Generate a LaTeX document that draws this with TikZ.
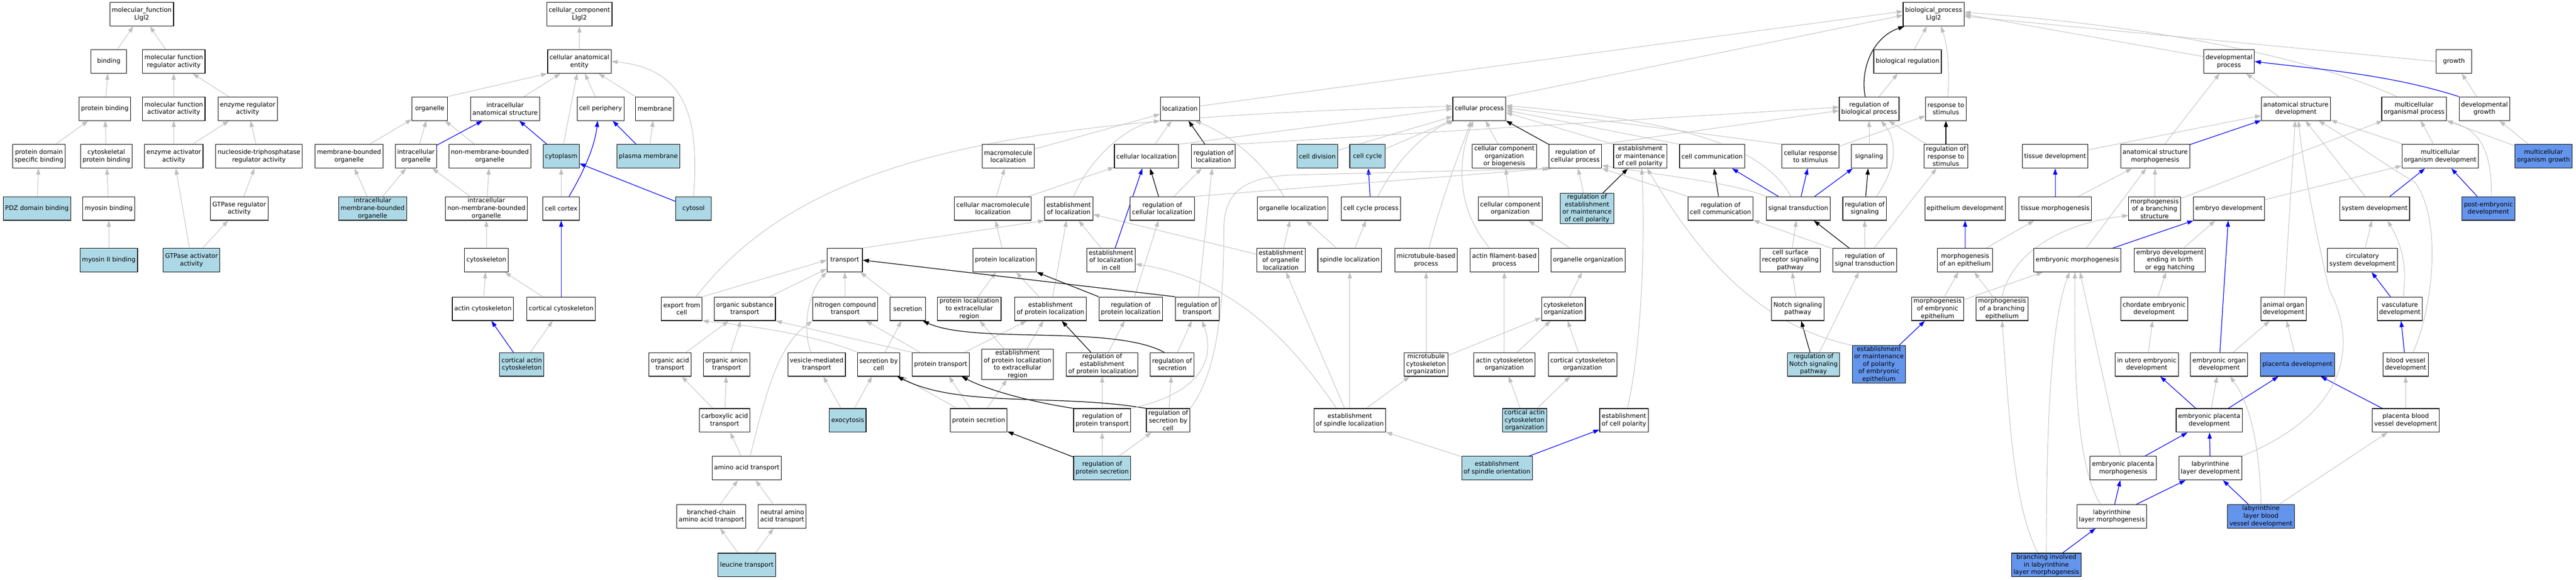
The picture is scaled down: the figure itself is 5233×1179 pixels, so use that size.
\documentclass[tikz,border=0pt]{standalone}
\usepackage{fontspec}
\setmainfont{DejaVu Sans}
\usetikzlibrary{arrows.meta}
\definecolor{edgegray}{RGB}{190,190,190}
\definecolor{lbfill}{RGB}{173,216,230}
\definecolor{cffill}{RGB}{100,149,237}
\newcommand\gofont{\fontsize{12.7}{15.3}\selectfont}
\pgfdeclarelayer{bg}
\pgfsetlayers{bg,main}
\begin{document}
\begin{tikzpicture}[x=1pt,y=-1pt,
 gonode/.style={draw=black,line width=1.2pt,fill=white,inner xsep=4pt,inner ysep=1.5pt,minimum width=72pt,minimum height=48pt,align=center,font=\gofont},
 lbnode/.style={gonode,fill=lbfill},
 cfnode/.style={gonode,fill=cffill},
 ge/.style={draw=edgegray,line width=1pt,-{Triangle[length=12.5pt,width=8.5pt]}},
 be/.style={draw=blue,line width=1.3pt,-{Triangle[length=12.5pt,width=8.5pt]}},
 ke/.style={draw=black,line width=1.3pt,-{Triangle[length=12.5pt,width=8.5pt]}}]
\useasboundingbox (0,0) rectangle (5233,1179);
% ---------------- molecular function
\node[gonode] (mf) at (288,29) {molecular\_function\\Llgl2};
\node[gonode] (binding) at (221,125) {binding};
\node[gonode] (mfra) at (353,125) {molecular function\\regulator activity};
\node[gonode] (pbind) at (213,221) {protein binding};
\node[gonode] (mfaa) at (353,221) {molecular function\\activator activity};
\node[gonode] (enzreg) at (503,221) {enzyme regulator\\activity};
\node[gonode] (pdsb) at (79,318) {protein domain\\specific binding};
\node[gonode] (cpb) at (216,318) {cytoskeletal\\protein binding};
\node[gonode] (enzact) at (353,318) {enzyme activator\\activity};
\node[gonode] (ntpreg) at (526,318) {nucleoside-triphosphatase\\regulator activity};
\node[lbnode] (pdz) at (75,424) {PDZ domain binding};
\node[gonode] (myob) at (221,424) {myosin binding};
\node[gonode] (gtpreg) at (486,424) {GTPase regulator\\activity};
\node[lbnode] (myo2) at (221,529) {myosin II binding};
\node[lbnode] (gtpact) at (389,529) {GTPase activator\\activity};
% ---------------- cellular component
\node[gonode] (cc) at (1177,29) {cellular\_component\\Llgl2};
\node[gonode] (cae) at (1177,125) {cellular anatomical\\entity};
\node[gonode] (organelle) at (873,221) {organelle};
\node[gonode] (ias) at (1026,221) {intracellular\\anatomical structure};
\node[gonode] (cper) at (1220,221) {cell periphery};
\node[gonode] (membrane) at (1330,221) {membrane};
\node[gonode] (mbo) at (709,318) {membrane-bounded\\organelle};
\node[gonode] (io) at (845,318) {intracellular\\organelle};
\node[gonode] (nmbo) at (995,318) {non-membrane-bounded\\organelle};
\node[lbnode] (cytoplasm) at (1140,318) {cytoplasm};
\node[lbnode] (pm) at (1317,318) {plasma membrane};
\node[lbnode] (imbo) at (757,424) {intracellular\\membrane-bounded\\organelle};
\node[gonode] (inmbo) at (988,424) {intracellular\\non-membrane-bounded\\organelle};
\node[gonode] (cortex) at (1140,424) {cell cortex};
\node[lbnode] (cytosol) at (1409,424) {cytosol};
\node[gonode] (cytosk) at (988,529) {cytoskeleton};
\node[gonode] (actcyt) at (981,628) {actin cytoskeleton};
\node[gonode] (corcyt) at (1140,628) {cortical cytoskeleton};
\node[lbnode] (cacyt) at (1060,741) {cortical actin\\cytoskeleton};
% ---------------- transport
\node[gonode] (transport) at (1716,529) {transport};
\node[gonode] (export) at (1385,628) {export from\\cell};
\node[gonode] (ost) at (1513,628) {organic substance\\transport};
\node[gonode] (nct) at (1717,628) {nitrogen compound\\transport};
\node[gonode] (secretion) at (1844,628) {secretion};
\node[gonode] (pler) at (1969,628) {protein localization\\to extracellular\\region};
\node[gonode] (epl) at (2134,628) {establishment\\of protein localization};
\node[gonode] (regpl) at (2297,628) {regulation of\\protein localization};
\node[gonode] (regtr) at (2432,628) {regulation of\\transport};
\node[gonode] (oat) at (1361,741) {organic acid\\transport};
\node[gonode] (oant) at (1476,741) {organic anion\\transport};
\node[gonode] (vmt) at (1659,741) {vesicle-mediated\\transport};
\node[gonode] (sbc) at (1785,741) {secretion by\\cell};
\node[gonode] (ptrans) at (1911,741) {protein transport};
\node[gonode] (epler) at (2067,741) {establishment\\of protein localization\\to extracellular\\region};
\node[gonode] (regepl) at (2239,741) {regulation of\\establishment\\of protein localization};
\node[gonode] (regsec) at (2381,741) {regulation of\\secretion};
\node[gonode] (cat) at (1472,855) {carboxylic acid\\transport};
\node[lbnode] (exo) at (1722,855) {exocytosis};
\node[gonode] (psec) at (1988,855) {protein secretion};
\node[gonode] (regpt) at (2239,855) {regulation of\\protein transport};
\node[gonode] (regsbc) at (2373,855) {regulation of\\secretion by\\cell};
\node[gonode] (aat) at (1517,952) {amino acid transport};
\node[lbnode] (regps) at (2239,952) {regulation of\\protein secretion};
\node[gonode] (bcaat) at (1445,1050) {branched-chain\\amino acid transport};
\node[gonode] (naat) at (1589,1050) {neutral amino\\acid transport};
\node[lbnode] (leucine) at (1517,1149) {leucine transport};
% ---------------- localization
\node[gonode] (loc) at (2397,221) {localization};
\node[gonode] (macloc) at (2048,318) {macromolecule\\localization};
\node[gonode] (cellloc) at (2329,318) {cellular localization};
\node[gonode] (regloc) at (2465,318) {regulation of\\localization};
\node[gonode] (cmloc) at (2017,424) {cellular macromolecule\\localization};
\node[gonode] (estloc) at (2171,424) {establishment\\of localization};
\node[gonode] (regcloc) at (2361,424) {regulation of\\cellular localization};
\node[gonode] (orgloc) at (2626,424) {organelle localization};
\node[gonode] (protloc) at (2041,529) {protein localization};
\node[gonode] (estlocc) at (2257,529) {establishment\\of localization\\in cell};
\node[gonode] (estorgloc) at (2602,529) {establishment\\of organelle\\localization};
% ---------------- cellular process
\node[gonode] (cellproc) at (3005,221) {cellular process};
\node[lbnode] (celldiv) at (2676,318) {cell division};
\node[lbnode] (cellcycle) at (2778,318) {cell cycle};
\node[gonode] (ccob) at (3056,318) {cellular component\\organization\\or biogenesis};
\node[gonode] (regcp) at (3200,318) {regulation of\\cellular process};
\node[gonode] (emcp) at (3332,318) {establishment\\or maintenance\\of cell polarity};
\node[gonode] (cellcomm) at (3478,318) {cell communication};
\node[gonode] (ccp) at (2785,424) {cell cycle process};
\node[gonode] (cco) at (3068,424) {cellular component\\organization};
\node[lbnode] (regemcp) at (3224,424) {regulation of\\establishment\\or maintenance\\of cell polarity};
\node[gonode] (regcc) at (3495,424) {regulation of\\cell communication};
\node[gonode] (spindloc) at (2742,529) {spindle localization};
\node[gonode] (mtbp) at (2897,529) {microtubule-based\\process};
\node[gonode] (afbp) at (3056,529) {actin filament-based\\process};
\node[gonode] (orgorg) at (3226,529) {organelle organization};
\node[gonode] (cytorg) at (3176,628) {cytoskeleton\\organization};
\node[gonode] (mco) at (2897,741) {microtubule\\cytoskeleton\\organization};
\node[gonode] (aco) at (3056,741) {actin cytoskeleton\\organization};
\node[gonode] (ccorg) at (3215,741) {cortical cytoskeleton\\organization};
\node[gonode] (esl) at (2742,855) {establishment\\of spindle localization};
\node[lbnode] (caco) at (3097,855) {cortical actin\\cytoskeleton\\organization};
\node[gonode] (ecp) at (3299,855) {establishment\\of cell polarity};
\node[lbnode] (eso) at (3041,952) {establishment\\of spindle orientation};
% ---------------- biological process / signaling
\node[gonode] (bp) at (3928,29) {biological\_process\\Llgl2};
\node[gonode] (bioreg) at (3875,125) {biological regulation};
\node[gonode] (regbp) at (3797,221) {regulation of\\biological process};
\node[gonode] (resp) at (3953,221) {response to\\stimulus};
\node[gonode] (crs) at (3678,318) {cellular response\\to stimulus};
\node[gonode] (signaling) at (3797,318) {signaling};
\node[gonode] (regrs) at (3953,318) {regulation of\\response to\\stimulus};
\node[gonode] (sigtrans) at (3653,424) {signal transduction};
\node[gonode] (regsig) at (3788,424) {regulation of\\signaling};
\node[gonode] (csrsp) at (3637,529) {cell surface\\receptor signaling\\pathway};
\node[gonode] (regst) at (3788,529) {regulation of\\signal transduction};
\node[gonode] (notch) at (3652,628) {Notch signaling\\pathway};
\node[lbnode] (regnotch) at (3684,741) {regulation of\\Notch signaling\\pathway};
\node[cfnode] (empee) at (3817,741) {establishment\\or maintenance\\of polarity\\of embryonic\\epithelium};
% ---------------- development
\node[gonode] (tissdev) at (4175,318) {tissue development};
\node[gonode] (asm) at (4378,318) {anatomical structure\\morphogenesis};
\node[gonode] (epidev) at (3992,424) {epithelium development};
\node[gonode] (tissmorph) at (4175,424) {tissue morphogenesis};
\node[gonode] (mbs) at (4377,424) {morphogenesis\\of a branching\\structure};
\node[gonode] (morphepi) at (3992,529) {morphogenesis\\of an epithelium};
\node[gonode] (embmorph) at (4220,529) {embryonic morphogenesis};
\node[gonode] (mee) at (3936,628) {morphogenesis\\of embryonic\\epithelium};
\node[gonode] (mbe) at (4067,628) {morphogenesis\\of a branching\\epithelium};
\node[gonode] (devproc) at (4528,125) {developmental\\process};
\node[gonode] (growth) at (4985,125) {growth};
\node[gonode] (asd) at (4664,221) {anatomical structure\\development};
\node[gonode] (mop) at (4904,221) {multicellular\\organismal process};
\node[gonode] (devgrowth) at (5047,221) {developmental\\growth};
\node[gonode] (mod) at (4957,318) {multicellular\\organism development};
\node[cfnode] (mog) at (5167,318) {multicellular\\organism growth};
\node[gonode] (embdev) at (4528,424) {embryo development};
\node[gonode] (sysdev) at (4824,424) {system development};
\node[cfnode] (ped) at (5055,424) {post-embryonic\\development};
\node[gonode] (edebeh) at (4408,529) {embryo development\\ending in birth\\or egg hatching};
\node[gonode] (circ) at (4799,529) {circulatory\\system development};
\node[gonode] (ced) at (4376,628) {chordate embryonic\\development};
\node[gonode] (aod) at (4639,628) {animal organ\\development};
\node[gonode] (vasc) at (4875,628) {vasculature\\development};
\node[gonode] (iued) at (4361,741) {in utero embryonic\\development};
\node[gonode] (eod) at (4508,741) {embryonic organ\\development};
\node[cfnode] (pd) at (4667,741) {placenta development};
\node[gonode] (bvd) at (4887,741) {blood vessel\\development};
\node[gonode] (epd) at (4488,855) {embryonic placenta\\development};
\node[gonode] (pbvd) at (4887,855) {placenta blood\\vessel development};
\node[gonode] (epm) at (4313,952) {embryonic placenta\\morphogenesis};
\node[gonode] (lld) at (4490,952) {labyrinthine\\layer development};
\node[gonode] (llm) at (4290,1050) {labyrinthine\\layer morphogenesis};
\node[cfnode] (llbvd) at (4593,1050) {labyrinthine\\layer blood\\vessel development};
\node[cfnode] (bill) at (4157,1149) {branching involved\\in labyrinthine\\layer morphogenesis};
% ================= edges
\begin{pgfonlayer}{bg}
\fill[white] (0,0) rectangle (5233,1179);
\foreach \a/\b in {binding/mf, mfra/mf, pbind/binding, mfaa/mfra, enzreg/mfra, pdsb/pbind, cpb/pbind, enzact/mfaa, enzact/enzreg, ntpreg/enzreg, pdz/pdsb, myob/cpb, gtpreg/ntpreg, myo2/myob, gtpact/enzact, gtpact/gtpreg,
 cae/cc, ias/cae, cytoplasm/cae, cper/cae, membrane/cae, mbo/organelle, io/organelle, nmbo/organelle, imbo/mbo, imbo/io, inmbo/io, inmbo/nmbo, cortex/cytoplasm, pm/membrane, cytosk/inmbo, actcyt/cytosk, corcyt/cytosk, cacyt/corcyt,
 bioreg/bp, regbp/bioreg, macloc/loc, cellloc/loc, celldiv/cellproc, cellcycle/cellproc, ccob/cellproc, crs/resp, signaling/regbp, regrs/regbp, tissdev/asd, asm/devproc, mod/asd, mod/mop, mog/mop, mog/devgrowth, devgrowth/growth, asd/devproc, cmloc/cellloc, cmloc/macloc, regcloc/regloc, cco/ccob, regemcp/regcp, tissmorph/asm, mbs/asm, mbs/mop, embdev/mod, sysdev/asd, protloc/cmloc, estlocc/estloc, estorgloc/orgloc, estorgloc/estloc, spindloc/orgloc, spindloc/ccp, orgorg/cco, csrsp/sigtrans, regst/regsig, regst/regrs, regst/regcc, morphepi/tissmorph, embmorph/asm, edebeh/embdev, circ/sysdev, ost/transport, nct/transport, secretion/transport, pler/protloc, epl/protloc, epl/estloc, regpl/regcloc, regtr/regloc, cytorg/orgorg, notch/csrsp, mee/morphepi, mee/embmorph, mbe/morphepi, ced/edebeh, oat/ost, oant/ost, sbc/secretion, ptrans/nct, ptrans/epl, epler/pler, epler/epl, regepl/regpl, regsec/regtr, mco/mtbp, mco/cytorg, aco/afbp, aco/cytorg, ccorg/cytorg, regnotch/regst, iued/ced, eod/aod, pd/aod, exo/vmt, exo/sbc, cat/oat, cat/oant, psec/sbc, psec/ptrans, psec/epler, regpt/regepl, regsbc/regsec, esl/spindloc, esl/estorgloc, esl/mco, caco/aco, caco/ccorg, epd/eod, pbvd/bvd, aat/cat, regps/regpt, regps/regsbc, eso/esl, epm/embmorph, bcaat/aat, naat/aat, llbvd/pbvd, leucine/bcaat, leucine/naat, aod/asd}
 \draw[ge] (\a) -- (\b);
\foreach \a/\b in {io/ias, cytoplasm/ias, pm/cper, cytosol/cytoplasm, corcyt/cortex, cacyt/actcyt, estlocc/cellloc, ccp/cellcycle, sigtrans/cellcomm, sigtrans/crs, sigtrans/signaling, tissmorph/tissdev, morphepi/epidev, embmorph/embdev, asm/asd, sysdev/mod, ped/mod, empee/mee, eod/embdev, bvd/vasc, vasc/circ, eso/ecp, epd/iued, epd/pd, pbvd/pd, epm/epd, lld/epd, llm/epm, llm/lld, llbvd/lld, bill/llm}
 \draw[be] (\a) -- (\b);
\foreach \a/\b in {regloc/loc, regrs/resp, regcloc/cellloc, regemcp/emcp, regcc/cellcomm, regsig/signaling, regst/sigtrans, regepl/epl, regnotch/notch, regps/psec}
 \draw[ke] (\a) -- (\b);
% anchored straight edges
\draw[ge] (organelle.north east) -- (cae.south west);
\draw[ge] (cellloc.north east) -- (cellproc.west);
\draw[ge] (regloc.north east) -- ([yshift=3pt]regbp.west);
\draw[ge] (regcp.north east) -- ([yshift=-4pt]regbp.west);
\draw[ge] (emcp.north west) -- ([yshift=-8pt]cellproc.east);
\draw[ge] (cellcomm.north west) -- ([yshift=-3pt]cellproc.east);
\draw[ge] (crs.north west) -- ([yshift=2pt]cellproc.east);
\draw[ke] (regcp.north west) -- (cellproc.south east);
\draw[ke] (regtr.north west) -- (transport.east);
\draw[ke] (regpl.north west) -- (protloc.south east);
\draw[ge] ([yshift=10pt]devproc.west) -- (bp.east);
\draw[ge] (growth.west) -- ([yshift=-4pt]bp.east);
\draw[ge] (loc) -- ([yshift=6pt]bp.west);
\draw[ge] (cellproc.north east) -- ([yshift=-2pt]bp.west);
\draw[ge] (regcloc.north east) -- (regcp.south west);
\draw[ge] (regcc.north west) -- (regcp.south east);
\draw[ge] (transport.north east) -- (estloc.south west);
\draw[ge] (export.north east) -- (transport.west);
\draw[ge] (ptrans.north west) -- (ost.south east);
% curved edges
\draw[ge] (cytosol.north) .. controls (1420,250) and (1400,140) .. (cae.east);
\draw[be] ([xshift=16pt]cortex.north) .. controls (1185,350) and (1208,300) .. ([xshift=-6pt]cper.south);
\draw[ke] ([xshift=-8pt]regbp.north) .. controls (3778,140) and (3805,75) .. ([xshift=3pt]bp.south west);
\draw[ge] ([xshift=4pt]resp.north) .. controls (3962,120) and (3952,80) .. ([xshift=15pt]bp.south);
\draw[ge] ([xshift=-35pt]mop.north) .. controls (4700,120) and (4400,55) .. ([yshift=4pt]bp.east);
\draw[ge] ([xshift=10pt]estloc.north) .. controls (2215,320) and (2290,255) .. (loc.south west);
\draw[ge] ([xshift=-18pt]orgloc.north) .. controls (2560,320) and (2490,270) .. ([xshift=-10pt]loc.south east);
\draw[ge] ([xshift=14pt]ccp.north) .. controls (2840,320) and (2900,265) .. ([xshift=4pt]cellproc.south west);
\draw[ge] ([xshift=6pt]mtbp.north) .. controls (2935,380) and (2970,300) .. ([xshift=-17pt]cellproc.south);
\draw[ge] ([xshift=-30pt]afbp.north) .. controls (2955,420) and (2962,320) .. ([xshift=-12pt]cellproc.south);
\draw[ge] ([xshift=-15pt]sigtrans.north) .. controls (3585,300) and (3420,245) .. ([yshift=6pt]cellproc.east);
\draw[ge] ([xshift=24pt]regsig.north) .. controls (3860,330) and (3850,280) .. ([xshift=24pt]regbp.south);
\draw[ge] (sigtrans.north west) .. controls (3520,372) and (3400,360) .. ([yshift=6pt]regcp.south east);
\draw[ge] (regsbc.north east) .. controls (2470,760) and (2486,640) .. (2486,470) .. controls (2486,395) and (2520,362) .. (2620,356) -- ([xshift=6pt]regcp.south west);
\draw[ge] ([xshift=-13pt]export.north east) .. controls (1650,300) and (2100,240) .. ([yshift=5pt]cellproc.west);
\draw[ge] ([xshift=-12pt]vmt.north) .. controls (1628,660) and (1645,590) .. (transport.south west);
\draw[ge] ([xshift=7pt]aat.north) .. controls (1560,780) and (1585,700) .. (nct.south west);
\draw[ge] (sbc.north west) .. controls (1680,690) and (1560,665) .. (export.south east);
\draw[ke] ([xshift=-16pt]regsec.north) .. controls (2260,660) and (1980,700) .. ([xshift=-6pt]secretion.south east);
\draw[ke] (regsbc.north west) .. controls (2150,800) and (1950,830) .. ([xshift=-6pt]sbc.south east);
\draw[ke] (regpt.north west) .. controls (2080,815) and (2000,790) .. ([xshift=-16pt]ptrans.south east);
\draw[ge] (regpt.north east) .. controls (2440,800) and (2470,730) .. ([xshift=10pt]regtr.south);
\draw[ge] ([xshift=-27pt]esl.north) .. controls (2640,720) and (2520,570) .. ([yshift=-8pt]estlocc.east);
\draw[ge] (empee.north west) .. controls (3560,660) and (3440,500) .. ([xshift=14pt]emcp.south);
\draw[ge] ([xshift=7pt]ecp.north) .. controls (3336,700) and (3342,480) .. ([xshift=3pt]emcp.south);
\draw[ge] (mbe.north) .. controls (4080,540) and (4150,460) .. ([yshift=-14pt]mbs.west);
\draw[ge] ([xshift=-17pt]bill.north) .. controls (4090,1030) and (4082,850) .. (mbe.south);
\draw[ge] (bill.north) .. controls (4157,800) and (4172,640) .. ([xshift=-16pt]embmorph.south);
\draw[ge] ([xshift=-23pt]llm.north) .. controls (4212,940) and (4214,700) .. ([xshift=-5pt]embmorph.south);
\draw[ge] (llbvd.north) .. controls (4590,900) and (4570,820) .. ([xshift=22pt]eod.south);
\draw[ge] (lld.north east) .. controls (4770,840) and (4790,700) .. (4732,590) .. controls (4705,480) and (4678,330) .. ([xshift=5pt]asd.south);
\draw[ge] ([xshift=15pt]bvd.north) .. controls (4945,620) and (4960,440) .. (4905,370) .. controls (4860,345) and (4760,275) .. ([xshift=46pt]asd.south);
\draw[ge] ([xshift=7pt]vasc.north) .. controls (4890,540) and (4880,500) .. ([xshift=26pt]sysdev.south);
\draw[ge] ([xshift=6pt]ped.north) .. controls (5062,310) and (5040,265) .. (mop.south east);
\draw[be] (devgrowth.north west) .. controls (4850,150) and (4700,140) .. (devproc.east);
\end{pgfonlayer}
\end{tikzpicture}
\end{document}
